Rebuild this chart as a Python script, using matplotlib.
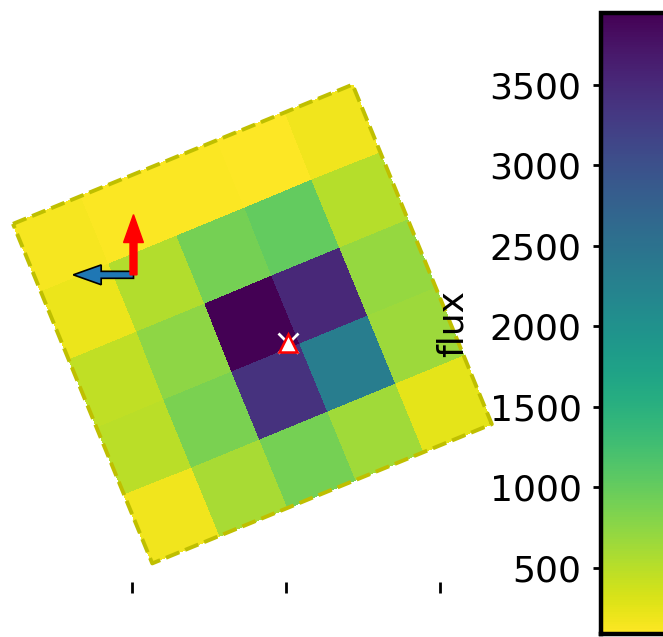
import numpy as np
import matplotlib
matplotlib.use("Agg")
import matplotlib.pyplot as plt

# pixel fluxes of the 5x5 stamp, row 0 is the top row before rotation
flux = np.array([
    [150, 120, 110, 90, 170],
    [200, 540, 900, 1010, 520],
    [460, 740, 3947, 3520, 700],
    [490, 860, 3400, 2330, 650],
    [180, 590, 890, 640, 250],
])
angle_deg = 22.3            # rotation of the stamp on the sky
target_xy = [0.48, -0.26]   # target position (stamp pixels, centre = 0,0)
compass_xy = [-1.62, 0.67]
compass_len = 0.82
xtick_pos = [-1.64, 0.46, 2.55]
cbar_ticks = [500, 1000, 1500, 2000, 2500, 3000, 3500]

fig = plt.figure(figsize=(6.63, 6.37), dpi=100)
ax = fig.add_axes([0, 55.3 / 637, 520 / 663, 567 / 637])

ny, nx = flux.shape
cols = np.arange(nx + 1) - nx / 2
rows = np.arange(ny + 1) - ny / 2
U, W = np.meshgrid(cols, -rows)
th = np.deg2rad(angle_deg)
X = U * np.cos(th) - W * np.sin(th)
Y = U * np.sin(th) + W * np.cos(th)

mesh = ax.pcolormesh(X, Y, flux, cmap="viridis_r",
                     vmin=flux.min(), vmax=flux.max(), shading="flat")

# aperture outline
bx = [X[0, 0], X[0, -1], X[-1, -1], X[-1, 0], X[0, 0]]
by = [Y[0, 0], Y[0, -1], Y[-1, -1], Y[-1, 0], Y[0, 0]]
ax.plot(bx, by, color="y", ls="--", lw=2.8, zorder=3)

# compass: E (blue, left) and N (red, up)
cx, cy = compass_xy
ax.arrow(cx, cy, -compass_len, 0, width=0.095, head_width=0.27,
         head_length=0.38, length_includes_head=True,
         fc="tab:blue", ec="k", lw=1.2, zorder=4)
ax.arrow(cx, cy, 0, compass_len, width=0.095, head_width=0.27,
         head_length=0.38, length_includes_head=True,
         fc="r", ec="r", lw=1.0, zorder=5)

# target
ax.plot(*target_xy, marker="x", color="w", ms=15, mew=2, ls="none", zorder=6)
ax.plot(*target_xy, marker="^", mfc="w", mec="r", ms=13, mew=1.8,
        ls="none", zorder=7)

scale = 73.4
ax.set_xlim(-252.4 / scale, (520 - 252.4) / scale)
ax.set_ylim(-(581.7 - 324) / scale, (567 - (581.7 - 324)) / scale)
for s in ax.spines.values():
    s.set_visible(False)
ax.set_yticks([])
ax.set_xticks(xtick_pos)
ax.set_xticklabels([])
ax.tick_params(axis="x", length=7.6, width=2)

cax = fig.add_axes([601 / 663, 3.3 / 637, 100 / 663, 620.7 / 637])
cb = fig.colorbar(mesh, cax=cax, ticks=cbar_ticks)
cax.yaxis.set_ticks_position("left")
cax.yaxis.set_label_position("left")
cb.set_label("flux", fontsize=26, labelpad=14)
cb.outline.set_linewidth(3.2)
cax.tick_params(labelsize=26, length=6, width=2, pad=8)

fig.savefig("out.png", dpi=100)
